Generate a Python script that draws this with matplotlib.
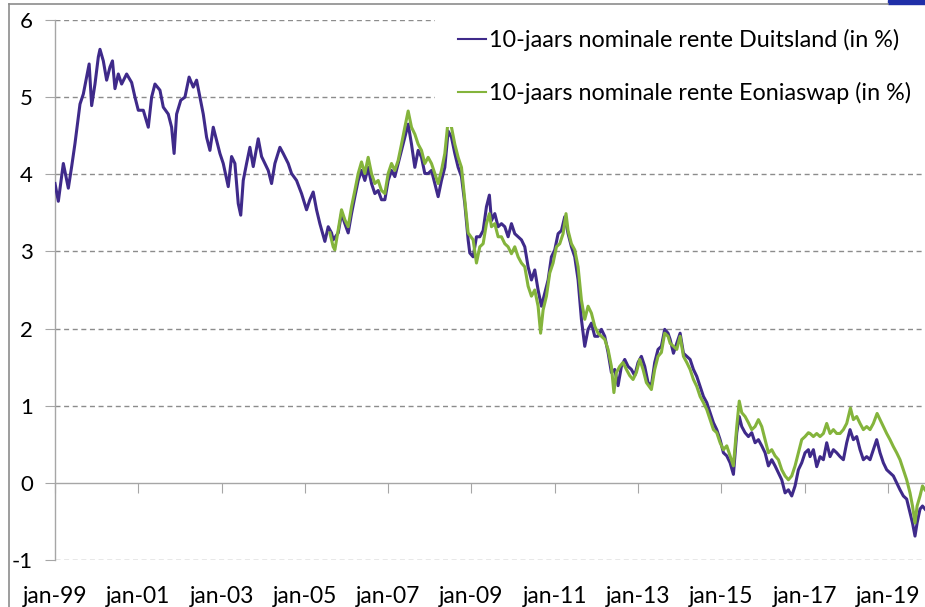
import matplotlib
matplotlib.use("Agg")
import matplotlib.pyplot as plt
from matplotlib.lines import Line2D
from matplotlib.patches import Rectangle

# ---- data (x in decimal years) ----
de_years = [1999.00, 1999.08, 1999.20, 1999.32, 1999.40, 1999.48, 1999.52, 1999.60, 1999.68, 1999.76,
            1999.82, 1999.88, 1999.96, 2000.04, 2000.08, 2000.16, 2000.24, 2000.32, 2000.38, 2000.44,
            2000.52, 2000.60, 2000.72, 2000.84, 2000.92, 2001.00, 2001.12, 2001.24, 2001.32, 2001.40,
            2001.52, 2001.60, 2001.72, 2001.80, 2001.86, 2001.92, 2002.02, 2002.12, 2002.22, 2002.32,
            2002.40, 2002.48, 2002.56, 2002.64, 2002.72, 2002.80, 2002.88, 2002.96, 2003.04, 2003.16,
            2003.24, 2003.32, 2003.40, 2003.46, 2003.52, 2003.60, 2003.68, 2003.76, 2003.88, 2003.96,
            2004.04, 2004.12, 2004.20, 2004.28, 2004.40, 2004.48, 2004.60, 2004.68, 2004.80, 2004.92,
            2005.04, 2005.12, 2005.20, 2005.28, 2005.36, 2005.48, 2005.56, 2005.64, 2005.68, 2005.80,
            2005.88, 2005.96, 2006.04, 2006.12, 2006.20, 2006.28, 2006.36, 2006.44, 2006.52, 2006.60,
            2006.68, 2006.76, 2006.84, 2006.92, 2007.00, 2007.08, 2007.16, 2007.24, 2007.32, 2007.40,
            2007.48, 2007.56, 2007.64, 2007.72, 2007.80, 2007.88, 2007.96, 2008.04, 2008.12, 2008.20,
            2008.28, 2008.36, 2008.44, 2008.52, 2008.60, 2008.68, 2008.76, 2008.84, 2008.92, 2008.96,
            2009.04, 2009.12, 2009.20, 2009.28, 2009.36, 2009.43, 2009.48, 2009.56, 2009.64, 2009.72,
            2009.80, 2009.88, 2009.96, 2010.04, 2010.12, 2010.20, 2010.28, 2010.36, 2010.44, 2010.52,
            2010.60, 2010.68, 2010.76, 2010.84, 2010.92, 2011.00, 2011.08, 2011.16, 2011.24, 2011.32,
            2011.40, 2011.48, 2011.56, 2011.64, 2011.72, 2011.80, 2011.88, 2011.96, 2012.04, 2012.12,
            2012.20, 2012.28, 2012.36, 2012.44, 2012.52, 2012.60, 2012.68, 2012.76, 2012.84, 2012.92,
            2013.00, 2013.08, 2013.16, 2013.24, 2013.32, 2013.40, 2013.48, 2013.56, 2013.64, 2013.72,
            2013.77, 2013.85, 2013.93, 2014.01, 2014.09, 2014.17, 2014.25, 2014.33, 2014.41, 2014.49,
            2014.57, 2014.65, 2014.73, 2014.81, 2014.89, 2014.97, 2015.05, 2015.13, 2015.21, 2015.29,
            2015.37, 2015.43, 2015.49, 2015.57, 2015.65, 2015.73, 2015.81, 2015.89, 2015.97, 2016.05,
            2016.13, 2016.21, 2016.29, 2016.37, 2016.45, 2016.53, 2016.61, 2016.69, 2016.77, 2016.85,
            2016.93, 2017.01, 2017.09, 2017.13, 2017.21, 2017.29, 2017.37, 2017.45, 2017.53, 2017.61,
            2017.69, 2017.77, 2017.85, 2017.93, 2018.01, 2018.09, 2018.17, 2018.25, 2018.33, 2018.41,
            2018.49, 2018.57, 2018.65, 2018.73, 2018.81, 2018.89, 2018.97, 2019.05, 2019.13, 2019.21,
            2019.29, 2019.37, 2019.45, 2019.53, 2019.59, 2019.65, 2019.70, 2019.77, 2019.83, 2019.89]
de_rate = [3.88, 3.65, 4.14, 3.82, 4.10, 4.40, 4.57, 4.91, 5.04, 5.26,
           5.43, 4.89, 5.17, 5.52, 5.62, 5.47, 5.22, 5.39, 5.47, 5.11,
           5.30, 5.17, 5.30, 5.19, 5.00, 4.83, 4.83, 4.61, 5.00, 5.17,
           5.09, 4.87, 4.78, 4.61, 4.27, 4.78, 4.96, 5.00, 5.26, 5.13,
           5.22, 5.00, 4.78, 4.48, 4.31, 4.61, 4.44, 4.27, 4.14, 3.84,
           4.23, 4.14, 3.62, 3.47, 3.92, 4.14, 4.35, 4.10, 4.46, 4.23,
           4.14, 4.05, 3.88, 4.14, 4.35, 4.27, 4.14, 4.01, 3.92, 3.75,
           3.54, 3.67, 3.77, 3.54, 3.36, 3.13, 3.32, 3.24, 3.15, 3.24,
           3.49, 3.36, 3.24, 3.49, 3.71, 3.92, 4.05, 3.92, 4.09, 3.88,
           3.75, 3.79, 3.67, 3.67, 3.92, 4.05, 3.97, 4.14, 4.31, 4.48,
           4.65, 4.39, 4.09, 4.31, 4.22, 4.01, 4.01, 4.05, 3.88, 3.71,
           3.92, 4.09, 4.56, 4.48, 4.27, 4.09, 3.97, 3.62, 3.15, 2.98,
           2.93, 3.19, 3.19, 3.27, 3.58, 3.73, 3.40, 3.49, 3.32, 3.36,
           3.32, 3.19, 3.36, 3.23, 3.19, 3.15, 3.06, 2.80, 2.63, 2.76,
           2.50, 2.29, 2.46, 2.63, 2.93, 3.02, 3.23, 3.27, 3.45, 3.23,
           3.06, 2.93, 2.63, 2.12, 1.77, 1.99, 2.07, 1.90, 1.90, 1.99,
           1.90, 1.69, 1.43, 1.47, 1.26, 1.51, 1.60, 1.51, 1.47, 1.39,
           1.56, 1.64, 1.51, 1.30, 1.26, 1.56, 1.73, 1.77, 1.99, 1.94,
           1.86, 1.68, 1.81, 1.94, 1.68, 1.64, 1.60, 1.47, 1.38, 1.25,
           1.12, 1.04, 0.91, 0.78, 0.69, 0.56, 0.39, 0.35, 0.26, 0.11,
           0.65, 0.86, 0.73, 0.65, 0.60, 0.65, 0.52, 0.56, 0.48, 0.39,
           0.22, 0.30, 0.22, 0.13, 0.04, -0.13, -0.09, -0.17, -0.04, 0.17,
           0.26, 0.39, 0.43, 0.34, 0.43, 0.21, 0.34, 0.30, 0.52, 0.34,
           0.43, 0.39, 0.34, 0.30, 0.52, 0.69, 0.56, 0.60, 0.43, 0.30,
           0.34, 0.30, 0.43, 0.56, 0.39, 0.26, 0.17, 0.13, 0.09, 0.00,
           -0.09, -0.17, -0.21, -0.39, -0.52, -0.69, -0.52, -0.34, -0.30, -0.34]

swap_years = [2005.60, 2005.68, 2005.72, 2005.80, 2005.88, 2005.96, 2006.04, 2006.12, 2006.20, 2006.28,
              2006.36, 2006.44, 2006.52, 2006.60, 2006.68, 2006.76, 2006.84, 2006.92, 2007.00, 2007.08,
              2007.16, 2007.24, 2007.32, 2007.40, 2007.48, 2007.56, 2007.64, 2007.72, 2007.80, 2007.88,
              2007.96, 2008.04, 2008.12, 2008.20, 2008.28, 2008.36, 2008.44, 2008.52, 2008.60, 2008.68,
              2008.76, 2008.84, 2008.92, 2009.04, 2009.12, 2009.20, 2009.28, 2009.36, 2009.43, 2009.48,
              2009.56, 2009.64, 2009.72, 2009.80, 2009.88, 2009.96, 2010.04, 2010.12, 2010.20, 2010.28,
              2010.36, 2010.44, 2010.52, 2010.60, 2010.66, 2010.72, 2010.80, 2010.88, 2010.96, 2011.04,
              2011.12, 2011.20, 2011.27, 2011.32, 2011.40, 2011.48, 2011.56, 2011.64, 2011.72, 2011.80,
              2011.88, 2011.96, 2012.04, 2012.12, 2012.20, 2012.28, 2012.36, 2012.42, 2012.48, 2012.56,
              2012.64, 2012.72, 2012.80, 2012.88, 2012.96, 2013.04, 2013.12, 2013.20, 2013.32, 2013.40,
              2013.48, 2013.56, 2013.64, 2013.72, 2013.77, 2013.85, 2013.93, 2014.01, 2014.09, 2014.17,
              2014.25, 2014.33, 2014.41, 2014.49, 2014.57, 2014.65, 2014.73, 2014.81, 2014.89, 2014.97,
              2015.05, 2015.13, 2015.21, 2015.29, 2015.37, 2015.43, 2015.49, 2015.57, 2015.65, 2015.73,
              2015.81, 2015.89, 2015.97, 2016.05, 2016.13, 2016.21, 2016.29, 2016.37, 2016.45, 2016.53,
              2016.61, 2016.69, 2016.77, 2016.85, 2016.93, 2017.01, 2017.09, 2017.13, 2017.21, 2017.29,
              2017.37, 2017.45, 2017.53, 2017.61, 2017.69, 2017.77, 2017.85, 2017.93, 2018.01, 2018.10,
              2018.17, 2018.25, 2018.33, 2018.41, 2018.49, 2018.57, 2018.65, 2018.74, 2018.81, 2018.89,
              2018.97, 2019.05, 2019.13, 2019.21, 2019.29, 2019.37, 2019.45, 2019.53, 2019.59, 2019.65,
              2019.70, 2019.77, 2019.83, 2019.89]
swap_rate = [3.24, 3.06, 3.02, 3.28, 3.54, 3.41, 3.32, 3.58, 3.79, 4.01,
             4.16, 4.01, 4.22, 4.01, 3.88, 3.92, 3.79, 3.75, 4.01, 4.14,
             4.05, 4.18, 4.39, 4.61, 4.82, 4.61, 4.52, 4.39, 4.31, 4.14,
             4.22, 4.14, 4.01, 3.88, 4.05, 4.27, 4.70, 4.61, 4.39, 4.22,
             4.09, 3.67, 3.24, 3.15, 2.85, 3.06, 3.10, 3.36, 3.49, 3.32,
             3.36, 3.19, 3.19, 3.10, 3.06, 2.97, 3.06, 2.93, 2.85, 2.80,
             2.55, 2.42, 2.50, 2.29, 1.94, 2.24, 2.42, 2.72, 2.85, 3.06,
             3.10, 3.23, 3.49, 3.27, 3.10, 3.02, 2.80, 2.37, 2.12, 2.29,
             2.20, 2.03, 1.94, 1.90, 1.86, 1.73, 1.51, 1.17, 1.43, 1.51,
             1.56, 1.47, 1.39, 1.34, 1.43, 1.60, 1.47, 1.30, 1.21, 1.47,
             1.64, 1.69, 1.94, 1.90, 1.81, 1.77, 1.73, 1.90, 1.64, 1.56,
             1.47, 1.34, 1.25, 1.12, 1.04, 0.95, 0.82, 0.69, 0.65, 0.52,
             0.43, 0.48, 0.35, 0.22, 0.73, 1.06, 0.91, 0.86, 0.78, 0.69,
             0.73, 0.82, 0.73, 0.56, 0.39, 0.43, 0.35, 0.30, 0.17, 0.09,
             0.04, 0.09, 0.22, 0.39, 0.56, 0.60, 0.65, 0.64, 0.60, 0.64,
             0.60, 0.64, 0.77, 0.64, 0.69, 0.64, 0.64, 0.69, 0.77, 0.97,
             0.82, 0.86, 0.77, 0.69, 0.73, 0.69, 0.77, 0.90, 0.82, 0.73,
             0.64, 0.56, 0.47, 0.39, 0.30, 0.17, 0.04, -0.13, -0.30, -0.52,
             -0.30, -0.17, -0.04, -0.09]

series_labels = ["10-jaars nominale rente Duitsland (in %)",
                 "10-jaars nominale rente Eoniaswap (in %)"]
xtick_years = [1999, 2001, 2003, 2005, 2007, 2009, 2011, 2013, 2015, 2017, 2019]
xtick_labels = ["jan-99", "jan-01", "jan-03", "jan-05", "jan-07", "jan-09",
                "jan-11", "jan-13", "jan-15", "jan-17", "jan-19"]
ytick_values = [-1, 0, 1, 2, 3, 4, 5, 6]

# ---- styling ----
plt.rcParams['font.family'] = ['Lato', 'DejaVu Sans']
PURPLE = "#3F2A8A"
GREEN = "#84B43C"
GREY = "#A6A6A6"
GRID = "#8C8C8C"

fig = plt.figure(figsize=(9.25, 6.07), dpi=100)
W, H = 925, 607
ax = fig.add_axes([55 / W, 1 - 560 / H, 870 / W, 540 / H])

ax.plot(de_years, de_rate, color=PURPLE, lw=2.2, label=series_labels[0], zorder=3)
ax.plot(swap_years, swap_rate, color=GREEN, lw=2.2, label=series_labels[1], zorder=4)

ax.set_xlim(1999.0, 2019.89)
ax.set_ylim(-1, 6)

for s in ["top", "right"]:
    ax.spines[s].set_visible(False)
ax.spines["left"].set_color(GREY)
ax.spines["bottom"].set_color(GREY)
ax.spines["bottom"].set_position(("data", 0))
ax.spines["left"].set_linewidth(1.0)
ax.spines["bottom"].set_linewidth(1.0)

ax.set_yticks(ytick_values)
ax.set_yticklabels([str(v) for v in ytick_values])
ax.set_xticks(xtick_years)
ax.set_xticklabels(xtick_labels)
ax.tick_params(axis="y", direction="out", length=7, color=GREY, labelsize=16, pad=9)
ax.tick_params(axis="x", direction="out", length=7, color=GREY, labelsize=16.5, pad=67)

ax.yaxis.grid(True, color=GRID, lw=1.0, linestyle=(0, (3.6, 2.6)))
ax.xaxis.grid(False)
ax.set_axisbelow(True)
for gl, v in zip(ax.yaxis.get_gridlines(), ytick_values):
    if v == 0:
        gl.set_visible(False)

leg = ax.legend(loc="upper left", bbox_to_anchor=(435 / W, 1 - 6 / H),
                bbox_transform=fig.transFigure, fontsize=16.8, frameon=True,
                facecolor="white", edgecolor="none", framealpha=1.0, fancybox=False,
                handlelength=1.2, handletextpad=0.1, labelspacing=1.3, borderpad=1.0,
                borderaxespad=0)
for h in leg.get_lines():
    h.set_linewidth(1.5)
leg.set_zorder(10)

# outer frame & corner mark
fig.add_artist(Line2D([9 / W, 888 / W], [1 - 4 / H, 1 - 4 / H], color="#8C8C8C", lw=1.2,
                      transform=fig.transFigure))
fig.add_artist(Line2D([9 / W, 9 / W], [0, 1 - 4 / H], color="#8C8C8C", lw=1.2,
                      transform=fig.transFigure))
fig.add_artist(Rectangle((888 / W, 1 - 4 / H), 37 / W, 4 / H, color="#1F2FA8",
                         transform=fig.transFigure))

fig.savefig("out.png", dpi=100)
